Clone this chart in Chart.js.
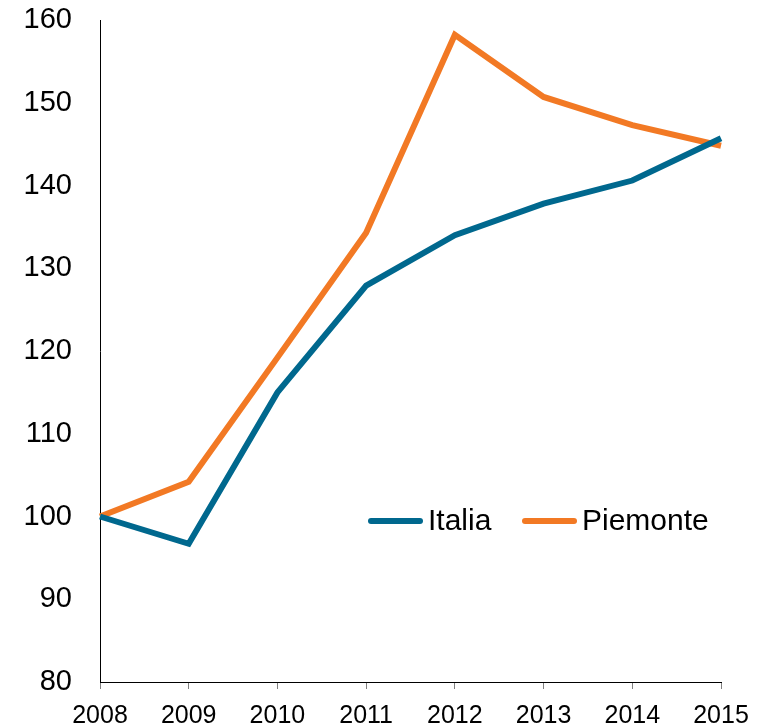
<!DOCTYPE html>
<html>
<head>
<meta charset="utf-8">
<script src="https://cdn.jsdelivr.net/npm/chart.js@4/dist/chart.umd.min.js"></script>
<style>
  html, body { margin: 0; padding: 0; background: #fff; }
  #wrap { width: 761px; height: 728px; position: relative; }
</style>
</head>
<body>
<div id="wrap"><canvas id="c" width="761" height="728"></canvas></div>
<script>
const years = ['2008', '2009', '2010', '2011', '2012', '2013', '2014', '2015'];
const italia = [100, 96.7, 115.0, 127.9, 134.0, 137.8, 140.6, 145.7];
const piemonte = [100, 104.2, 119.2, 134.3, 158.2, 150.7, 147.3, 144.8];
const yTicks = [80, 90, 100, 110, 120, 130, 140, 150, 160];
const seriesNames = ['Italia', 'Piemonte'];
const seriesColors = ['#00688e', '#f27924'];

const FONT = "'Liberation Sans', Arial, Helvetica, sans-serif";

const legendPlugin = {
  id: 'innerLegend',
  afterDraw(chart) {
    const ctx = chart.ctx;
    const y = 521;
    const items = [
      { x: 368, textX: 428 },
      { x: 522, textX: 582 }
    ];
    ctx.save();
    chart.data.datasets.forEach((ds, i) => {
      const it = items[i];
      ctx.strokeStyle = ds.borderColor;
      ctx.lineWidth = 6;
      ctx.lineCap = 'round';
      ctx.beginPath();
      ctx.moveTo(it.x + 3, y);
      ctx.lineTo(it.x + 52, y);
      ctx.stroke();
      ctx.fillStyle = '#000';
      ctx.font = '30px ' + FONT;
      ctx.textBaseline = 'middle';
      ctx.textAlign = 'left';
      ctx.fillText(ds.label, it.textX, y + 1);
    });
    ctx.restore();
  }
};

new Chart(document.getElementById('c'), {
  type: 'line',
  data: {
    labels: years,
    datasets: [
      { label: seriesNames[0], data: italia, borderColor: seriesColors[0], backgroundColor: seriesColors[0],
        borderWidth: 6, pointRadius: 0, tension: 0, fill: false },
      { label: seriesNames[1], data: piemonte, borderColor: seriesColors[1], backgroundColor: seriesColors[1],
        borderWidth: 6, pointRadius: 0, tension: 0, fill: false }
    ]
  },
  options: {
    responsive: false,
    animation: false,
    devicePixelRatio: 1,
    layout: { padding: { top: 20, right: 40, left: 0, bottom: 0 } },
    plugins: {
      legend: { display: false },
      tooltip: { enabled: false }
    },
    scales: {
      x: {
        type: 'category',
        offset: false,
        grid: { display: true, drawOnChartArea: false, drawTicks: true, tickLength: 7, color: '#808080', lineWidth: 1 },
        border: { display: true, color: '#000', width: 1 },
        ticks: { color: '#000', font: { family: FONT, size: 25 }, padding: 12, maxRotation: 0, autoSkip: false },
        afterFit(scale) { scale.height = 46; }
      },
      y: {
        min: 80, max: 160,
        afterBuildTicks(scale) { scale.ticks = yTicks.map(v => ({ value: v })); },
        grid: { display: false, drawTicks: false },
        border: { display: true, color: '#000', width: 1 },
        ticks: { color: '#000', font: { family: FONT, size: 29 }, padding: 28 },
        afterFit(scale) { scale.width = 100; scale.paddingTop = 0; scale.paddingBottom = 0; }
      }
    }
  },
  plugins: [legendPlugin]
});
</script>
</body>
</html>
